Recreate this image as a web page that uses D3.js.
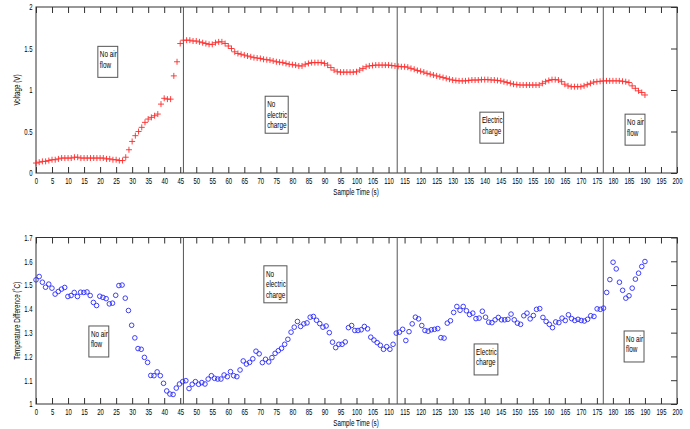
<!DOCTYPE html>
<html>
<head>
<meta charset="utf-8">
<script src="https://cdn.jsdelivr.net/npm/d3@7"></script>
<style>
  body { margin: 0; background: #fff; }
  text { font-family: "Liberation Sans", Arial, sans-serif; fill: #000; }
</style>
</head>
<body>
<script>
// voltage per sample (V), one sample per second
const voltage = [
  0.12, 0.13, 0.14, 0.14, 0.15, 0.16, 0.16, 0.17, 0.18, 0.18,
  0.18, 0.18, 0.19, 0.19, 0.18, 0.18, 0.18, 0.18, 0.18, 0.18,
  0.18, 0.18, 0.17, 0.17, 0.16, 0.16, 0.15, 0.15, 0.19, 0.28,
  0.38, 0.45, 0.50, 0.55, 0.61, 0.65, 0.67, 0.69, 0.71, 0.83,
  0.90, 0.89, 0.89, 1.17, 1.34, 1.56, 1.60, 1.60, 1.60, 1.59,
  1.59, 1.58, 1.57, 1.56, 1.55, 1.55, 1.57, 1.58, 1.58, 1.56,
  1.53, 1.50, 1.46, 1.44, 1.43, 1.42, 1.41, 1.40, 1.39, 1.385,
  1.38, 1.37, 1.365, 1.36, 1.35, 1.34, 1.335, 1.33, 1.32, 1.31,
  1.305, 1.30, 1.29, 1.29, 1.31, 1.32, 1.33, 1.33, 1.33, 1.33,
  1.32, 1.30, 1.27, 1.24, 1.22, 1.215, 1.215, 1.215, 1.215, 1.215,
  1.22, 1.24, 1.26, 1.28, 1.29, 1.295, 1.30, 1.30, 1.30, 1.30,
  1.30, 1.295, 1.29, 1.285, 1.28, 1.28, 1.275, 1.26, 1.25, 1.235,
  1.225, 1.215, 1.20, 1.19, 1.18, 1.17, 1.16, 1.15, 1.14, 1.13,
  1.12, 1.115, 1.11, 1.11, 1.11, 1.115, 1.12, 1.12, 1.12, 1.125,
  1.125, 1.125, 1.12, 1.12, 1.115, 1.11, 1.10, 1.09, 1.08, 1.07,
  1.065, 1.06, 1.06, 1.06, 1.06, 1.06, 1.06, 1.06, 1.08, 1.10,
  1.115, 1.125, 1.125, 1.12, 1.10, 1.07, 1.05, 1.04, 1.04, 1.04,
  1.04, 1.05, 1.065, 1.08, 1.095, 1.10, 1.105, 1.11, 1.11, 1.11,
  1.11, 1.11, 1.11, 1.105, 1.10, 1.09, 1.05, 1.02, 0.99, 0.97,
  0.94
];

// temperature difference per sample (deg C)
const tempDiff = [
  1.522, 1.536, 1.512, 1.491, 1.504, 1.487, 1.462, 1.473, 1.483, 1.490,
  1.452, 1.456, 1.469, 1.452, 1.470, 1.469, 1.471, 1.456, 1.427, 1.414,
  1.453, 1.448, 1.443, 1.421, 1.424, 1.457, 1.498, 1.500, 1.445, 1.393,
  1.331, 1.278, 1.233, 1.230, 1.196, 1.175, 1.120, 1.119, 1.135, 1.119,
  1.087, 1.055, 1.042, 1.040, 1.067, 1.084, 1.094, 1.098, 1.065, 1.083,
  1.094, 1.083, 1.090, 1.084, 1.105, 1.119, 1.108, 1.105, 1.105, 1.122,
  1.115, 1.136, 1.119, 1.115, 1.143, 1.181, 1.168, 1.175, 1.190, 1.222,
  1.211, 1.174, 1.188, 1.177, 1.195, 1.213, 1.224, 1.234, 1.251, 1.272,
  1.302, 1.323, 1.347, 1.326, 1.337, 1.341, 1.365, 1.368, 1.352, 1.338,
  1.323, 1.328, 1.300, 1.260, 1.237, 1.251, 1.251, 1.261, 1.321, 1.330,
  1.309, 1.309, 1.312, 1.326, 1.316, 1.281, 1.269, 1.258, 1.247, 1.230,
  1.241, 1.230, 1.251, 1.298, 1.302, 1.314, 1.267, 1.304, 1.337, 1.365,
  1.358, 1.330, 1.309, 1.306, 1.312, 1.314, 1.317, 1.279, 1.277, 1.340,
  1.350, 1.385, 1.410, 1.394, 1.410, 1.392, 1.376, 1.382, 1.359, 1.361,
  1.390, 1.365, 1.344, 1.342, 1.354, 1.364, 1.354, 1.354, 1.356, 1.378,
  1.354, 1.340, 1.335, 1.371, 1.382, 1.358, 1.372, 1.398, 1.401, 1.364,
  1.347, 1.335, 1.321, 1.345, 1.342, 1.361, 1.351, 1.375, 1.359, 1.351,
  1.356, 1.351, 1.349, 1.356, 1.371, 1.368, 1.400, 1.398, 1.403, 1.469,
  1.523, 1.596, 1.568, 1.512, 1.478, 1.445, 1.455, 1.487, 1.525, 1.550,
  1.578, 1.599
];

const lastSample = 190;                       // seconds
const timeTicks = d3.range(0, 201, 5);
const voltageTicks = [0, 0.5, 1, 1.5, 2];
const tempTicks = [1, 1.1, 1.2, 1.3, 1.4, 1.5, 1.6, 1.7];
const phaseBounds = [46, 112.7, 177];

const voltageNotes = [
  { t: 19.3, y: 1.526, lines: ["No air", "flow"] },
  { t: 71.5, y: 0.925, lines: ["No", "electric", "charge"] },
  { t: 138.5, y: 0.733, lines: ["Electric", "charge"] },
  { t: 183.8, y: 0.709, lines: ["No air", "flow"] }
];
const tempNotes = [
  { t: 16.5, y: 1.328, lines: ["No air", "flow"] },
  { t: 71.1, y: 1.581, lines: ["No", "electric", "charge"] },
  { t: 136.7, y: 1.2525, lines: ["Electric", "charge"] },
  { t: 183.5, y: 1.307, lines: ["No air", "flow"] }
];

const width = 690, height = 429;
const squeeze = 0.66;   // the source figure's text is horizontally narrow

const svg = d3.select('body')
  .append('svg')
  .attr('width', width)
  .attr('height', height)
  .style('display', 'block');

const xScale = d3.scaleLinear().domain([0, 200]).range([36, 677]);

function drawPanel(cfg) {
  const yScale = d3.scaleLinear().domain(cfg.domain).range([cfg.bottom, cfg.top]);
  const g = svg.append('g');
  const n = cfg.values.length;
  const pts = cfg.values.map((v, i) => [i * lastSample / (n - 1), v]);

  // bottom axis, ticks pointing inward
  const bx = g.append('g')
    .attr('transform', `translate(0, ${cfg.bottom})`)
    .call(d3.axisBottom(xScale).tickValues(timeTicks).tickSize(-6).tickPadding(5).tickFormat(d3.format('d')));
  bx.selectAll('text').attr('transform', `scale(${squeeze},1)`).style('font-size', '9px');

  g.append('g')
    .attr('transform', `translate(0, ${cfg.top})`)
    .call(d3.axisTop(xScale).tickValues(timeTicks).tickSize(-6).tickFormat(''));

  const ly = g.append('g')
    .attr('transform', 'translate(36, 0)')
    .call(d3.axisLeft(yScale).tickValues(cfg.ticks).tickSize(0).tickFormat(d => String(+d.toFixed(2))));
  ly.selectAll('text').attr('x', -3.5 / squeeze).attr('transform', `scale(${squeeze},1)`).style('font-size', '9px');

  g.append('g')
    .attr('transform', 'translate(677, 0)')
    .call(d3.axisRight(yScale).tickValues(cfg.ticks).tickSize(-6).tickFormat(''));

  g.selectAll('.domain').remove();
  g.selectAll('.tick line').attr('stroke', '#333');

  g.append('rect')
    .attr('x', 36).attr('y', cfg.top)
    .attr('width', 641).attr('height', cfg.bottom - cfg.top)
    .attr('fill', 'none').attr('stroke', '#333');

  // phase boundaries
  g.selectAll('.phase')
    .data(phaseBounds)
    .enter().append('line')
    .attr('x1', d => xScale(d)).attr('x2', d => xScale(d))
    .attr('y1', cfg.top).attr('y2', cfg.bottom)
    .attr('stroke', '#555').attr('stroke-width', 1);

  // markers
  if (cfg.marker === 'plus') {
    g.selectAll('.pt')
      .data(pts)
      .enter().append('path')
      .attr('d', d => `M${xScale(d[0]) - 3},${yScale(d[1])}h6M${xScale(d[0])},${yScale(d[1]) - 3}v6`)
      .attr('stroke', '#ff2a2a').attr('stroke-width', 0.9).attr('fill', 'none');
  } else {
    g.selectAll('.pt')
      .data(pts)
      .enter().append('circle')
      .attr('cx', d => xScale(d[0])).attr('cy', d => yScale(d[1]))
      .attr('r', 2.3)
      .attr('fill', 'none').attr('stroke', '#2a2aff').attr('stroke-width', 0.9);
  }

  // text boxes
  cfg.notes.forEach(note => {
    const ng = g.append('g')
      .attr('transform', `translate(${xScale(note.t)}, ${yScale(note.y)})`);
    const box = ng.append('rect').attr('fill', '#fff').attr('stroke', '#555');
    const texts = ng.selectAll('text')
      .data(note.lines)
      .enter().append('text')
      .attr('transform', (d, i) => `translate(2, ${11 + i * 10.5}) scale(0.72,1)`)
      .style('font-size', '8.8px')
      .text(d => d);
    let w = 0;
    texts.each(function () { w = Math.max(w, this.getComputedTextLength() * 0.72); });
    box.attr('width', w + 3).attr('height', 19 + 6 * note.lines.length);
  });

  // axis titles
  g.append('text')
    .attr('transform', `translate(356, ${cfg.bottom + 22}) scale(${squeeze},1)`)
    .attr('text-anchor', 'middle')
    .style('font-size', '9.5px')
    .text('Sample Time (s)');

  g.append('text')
    .attr('transform', `translate(19.5, ${(cfg.top + cfg.bottom) / 2}) rotate(-90) scale(${squeeze},1)`)
    .attr('text-anchor', 'middle')
    .style('font-size', '9.5px')
    .text(cfg.title);
}

drawPanel({
  values: voltage, domain: [0, 2], ticks: voltageTicks,
  top: 7, bottom: 173, marker: 'plus', notes: voltageNotes, title: 'Voltage (V)'
});

drawPanel({
  values: tempDiff, domain: [1, 1.7], ticks: tempTicks,
  top: 237.5, bottom: 404, marker: 'circle', notes: tempNotes, title: 'Temperature Difference (˚C)'
});
</script>
</body>
</html>
